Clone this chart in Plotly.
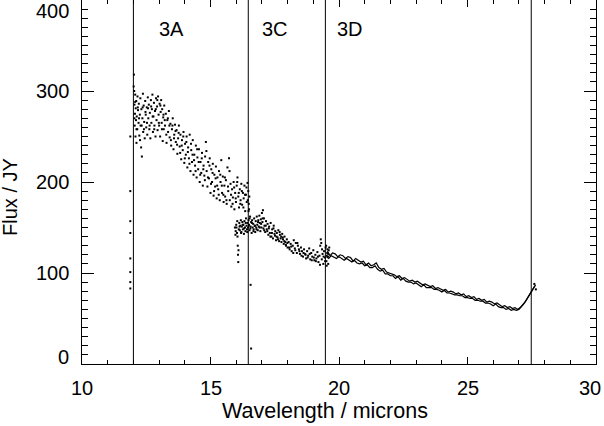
import plotly.graph_objects as go

# ---- data ----
wl_3a = [12.02,12.03,12.04,12.05,12.06,12.07,12.08,12.09,12.10,12.11,12.12,12.13,12.15,12.16,12.18,12.20,12.21,12.23,12.25,12.27,
         12.28,12.30,12.31,12.33,12.35,12.37,12.38,12.40,12.42,12.44,12.46,12.48,12.50,12.52,12.54,12.56,12.58,12.60,12.62,12.64,
         12.66,12.68,12.70,12.72,12.74,12.76,12.78,12.80,12.82,12.84,12.86,12.88,12.90,12.92,12.94,12.96,12.98,13.00,13.02,13.04,
         13.06,13.08,13.10,13.12,13.14,13.16,13.18,13.20,13.23,13.26,13.29,13.32,13.35,13.38,13.41,13.44,13.47,13.50,13.53,13.56,
         13.59,13.62,13.65,13.68,13.71,13.74,13.77,13.80,13.83,13.86,13.89,13.92,13.95,13.98,14.01,14.04,14.07,14.10,14.13,14.16,
         14.19,14.22,14.25,14.28,14.31,14.34,14.37,14.40,14.43,14.46,14.49,14.52,14.55,14.58,14.61,14.64,14.67,14.70,14.73,14.76,
         14.79,14.82,14.85,14.88,14.91,14.94,14.97,15.00,15.03,15.06,15.09,15.12,15.15,15.18,15.21,15.24,15.27,15.30,15.33,15.36,
         15.39,15.42,15.45,15.48,15.51,15.54,15.57,15.60,15.63,15.66,15.69,15.72,15.75,15.78,15.81,15.84,15.87,15.90,15.93,15.96,
         15.99,16.02,16.05,16.08,16.11,16.14,16.17,16.20,16.23,16.26,16.29,16.32,16.35,16.38,16.41,16.44,16.47,16.49,16.50,16.52]
flux_3a = [318,300,285,262,275,296,250,281,268,289,243,272,258,294,279,265,286,251,274,292,
           262,238,280,228,270,297,255,284,266,248,289,274,260,282,252,293,270,285,258,276,
           248,290,265,280,296,255,272,287,262,278,250,292,268,283,257,294,274,262,286,250,
           277,290,265,280,245,271,258,284,262,275,243,268,255,278,249,264,240,258,270,236,
           252,263,244,257,231,248,262,239,252,225,246,235,255,221,242,230,250,216,238,226,
           252,212,235,222,246,208,230,218,240,205,227,214,236,200,222,210,232,196,218,207,
           228,244,212,195,222,204,226,188,214,200,220,185,208,195,217,182,205,192,212,180,
           200,224,188,206,178,196,184,202,176,216,190,226,180,198,173,192,183,200,170,188,
           178,196,205,184,172,192,180,198,175,188,182,196,168,186,178,199,190,176,170,160]

wl_3a_b = [12.01,12.04,12.07,12.12,12.17,12.22,12.26,12.32,12.36,12.41,12.47,12.53,12.57,12.63,12.69,12.75,12.81,12.87,12.93,12.99,
           13.05,13.11,13.17,13.22,13.28,13.34,13.40,13.46,13.52,13.58,13.64,13.70,13.76,13.82,13.88,13.94,14.00,14.06,14.12,14.18,
           14.24,14.30,14.36,14.42,14.48,14.54,14.60,14.66,14.72,14.78,14.84,14.90,14.96,15.02,15.08,15.14,15.20,15.26,15.32,15.38,
           15.44,15.50,15.56,15.62,15.68,15.74,15.80,15.86,15.92,15.98,16.04,16.10,16.16,16.22,16.28,16.34,16.40,16.45,16.48,16.51]
flux_3a_b = [305,270,288,258,282,270,246,262,282,258,277,265,281,262,283,272,258,280,290,265,
             284,258,274,268,252,270,262,246,262,248,256,241,254,232,240,250,226,244,233,220,
             242,230,224,212,236,222,208,226,214,202,234,205,218,198,210,190,204,196,186,208,
             196,186,205,180,195,212,186,176,194,182,200,188,176,190,172,186,194,180,168,184]

wl_3c = [15.95,15.98,16.00,16.03,16.05,16.06,16.07,16.08,16.09,16.10,16.12,16.14,16.16,16.18,16.20,16.22,16.24,16.26,16.28,16.30,
         16.32,16.34,16.36,16.38,16.40,16.42,16.44,16.46,16.48,16.50,16.52,16.54,16.56,16.58,16.60,16.62,16.64,16.66,16.68,16.70,
         16.72,16.74,16.76,16.78,16.80,16.82,16.84,16.86,16.88,16.90,16.92,16.94,16.96,16.98,17.00,17.02,17.04,17.06,17.08,17.10,
         17.13,17.16,17.19,17.22,17.25,17.28,17.31,17.34,17.37,17.40,17.43,17.46,17.49,17.52,17.55,17.58,17.61,17.64,17.67,17.70,
         17.73,17.76,17.79,17.82,17.85,17.88,17.91,17.94,17.97,18.00,18.04,18.08,18.12,18.16,18.20,18.24,18.28,18.32,18.36,18.40,
         18.44,18.48,18.52,18.56,18.60,18.64,18.68,18.72,18.76,18.80,18.84,18.88,18.92,18.96,19.00,19.04,19.08,19.12,19.16,19.20,
         19.24,19.27,19.29,19.31,19.33,19.36,19.39,19.42,19.45,19.48,19.51,19.54,19.57,19.60]
flux_3c = [150,146,153,144,140,130,120,112,125,148,155,147,152,158,145,151,156,148,153,143,
           157,150,146,160,152,148,155,150,158,153,147,162,151,156,144,158,150,154,148,160,
           152,145,157,150,162,153,147,158,151,163,155,146,159,150,166,156,169,149,160,152,
           145,157,148,154,142,151,144,155,140,148,138,152,143,146,136,144,139,147,135,142,
           138,134,143,137,132,140,134,130,137,128,134,126,132,124,130,136,127,133,122,130,
           126,121,128,124,118,126,121,116,124,119,127,115,122,118,125,114,120,116,123,112,
           119,130,137,133,115,121,110,124,117,128,113,122,118,125]

wl_3c_b = [15.97,16.01,16.04,16.13,16.19,16.25,16.31,16.37,16.43,16.49,16.55,16.61,16.67,16.73,16.79,16.85,16.91,16.97,17.03,17.09,
           17.15,17.21,17.27,17.33,17.39,17.45,17.51,17.57,17.63,17.69,17.75,17.81,17.87,17.93,17.99,18.06,18.14,18.22,18.30,18.38,
           18.46,18.54,18.62,18.70,18.78,18.86,18.94,19.02,19.10,19.18,19.26,19.34,19.40,19.46,19.52,19.58]
flux_3c_b = [142,150,157,151,144,153,149,155,145,152,149,155,146,152,148,156,150,154,160,147,
             152,146,149,140,144,149,141,140,137,145,140,139,135,131,133,128,129,122,125,133,
             124,119,122,120,117,121,114,117,113,118,109,126,118,113,119,121]

wl_3d_up = [19.55,19.65,19.75,19.85,19.95,20.05,20.15,20.25,20.35,20.45,20.55,20.65,20.75,20.85,20.95,21.05,21.15,21.25,21.35,21.45,
            21.55,21.65,21.75,21.85,21.95,22.05,22.15,22.25,22.35,22.45,22.55,22.65,22.75,22.85,22.95,23.05,23.15,23.25,23.35,23.45,
            23.55,23.65,23.75,23.85,23.95,24.05,24.15,24.25,24.35,24.45,24.55,24.65,24.75,24.85,24.95,25.05,25.15,25.25,25.35,25.45,
            25.55,25.65,25.75,25.85,25.95,26.05,26.15,26.25,26.35,26.45,26.55,26.65,26.75,26.85,26.95,27.05,27.12,27.20,27.28,27.36,
            27.44,27.52,27.58,27.65]
flux_3d_up = [124,119,122,121,118,120,119,116,118,117,113,116,114,112,113,109,111,108,109,111,
              106,104,105,101,100,99,98,96,97,94,95,93,91,92,90,91,89,87,88,86,
              85,86,83,84,82,81,82,79,80,79,77,78,76,77,74,75,73,74,71,72,
              70,71,68,69,68,66,67,65,63,64,62,63,61,62,60,62,64,67,70,74,
              78,81,84,87]

wl_3d_lo = [19.50,19.60,19.70,19.80,19.90,20.00,20.10,20.20,20.30,20.40,20.50,20.60,20.70,20.80,20.90,21.00,21.10,21.20,21.30,21.40,
            21.50,21.60,21.70,21.80,21.90,22.00,22.10,22.20,22.30,22.40,22.50,22.60,22.70,22.80,22.90,23.00,23.10,23.20,23.30,23.40,
            23.50,23.60,23.70,23.80,23.90,24.00,24.10,24.20,24.30,24.40,24.50,24.60,24.70,24.80,24.90,25.00,25.10,25.20,25.30,25.40,
            25.50,25.60,25.70,25.80,25.90,26.00,26.10,26.20,26.30,26.40,26.50,26.60,26.70,26.80,26.90,27.00,27.08,27.16,27.24,27.32,
            27.40,27.48,27.55,27.62]
flux_3d_lo = [118,116,119,117,116,118,116,114,116,114,112,114,111,110,111,108,109,106,106,108,
              104,102,103,99,99,97,97,94,96,92,94,91,90,90,88,89,87,85,87,84,
              84,84,82,82,81,79,81,78,78,77,76,76,75,75,73,73,72,72,70,70,
              69,69,67,67,66,64,66,63,62,62,60,61,59,60,59,60,62,65,68,72,
              76,80,83,86]

wl_stray = [11.88,11.88,11.88,11.88,11.88,11.88,11.88,11.88,16.56,16.58,19.50,19.52,19.55,19.58,19.62,27.60,27.66]
flux_stray = [250,190,157,144,116,101,90,83,87,17,130,108,126,110,128,88,82]

band_edges = [12.0, 16.47, 19.47, 27.48]
band_names = ["3A", "3C", "3D"]
band_label_wl = [13.48, 17.51, 20.43]
band_label_flux = [368, 368, 368]

x_ticks = [10, 15, 20, 25, 30]
y_ticks = [0, 100, 200, 300, 400]

FONT = "Liberation Sans, Arial, Helvetica, sans-serif"

fig = go.Figure()
mk = dict(color="black", size=2, symbol="square", line=dict(width=0))
for xs, ys in [(wl_3a, flux_3a), (wl_3a_b, flux_3a_b), (wl_3c, flux_3c), (wl_3c_b, flux_3c_b), (wl_stray, flux_stray)]:
    fig.add_trace(go.Scatter(x=xs, y=ys, mode="markers", marker=mk, showlegend=False, hoverinfo="skip"))
for xs, ys in [(wl_3d_up, flux_3d_up), (wl_3d_lo, flux_3d_lo)]:
    fig.add_trace(go.Scatter(x=xs, y=ys, mode="lines", line=dict(color="black", width=1.2), showlegend=False, hoverinfo="skip"))

shapes = [dict(type="line", xref="x", yref="y", x0=e, x1=e, y0=0, y1=400, line=dict(color="black", width=1)) for e in band_edges]

ann = []
for name, xw, yf in zip(band_names, band_label_wl, band_label_flux):
    ann.append(dict(x=xw, y=yf, xref="x", yref="y", text=name, showarrow=False, font=dict(size=20, color="black", family=FONT)))
for v in y_ticks:
    ysh = 7 if v == y_ticks[0] else (-11 if v == y_ticks[-1] else 0)
    ann.append(dict(x=0, xref="paper", y=v, yref="y", text=str(v), showarrow=False, xanchor="right", yanchor="middle",
                    xshift=-11, yshift=ysh, font=dict(size=20, color="black", family=FONT)))
for v in x_ticks:
    anc = "right" if v == x_ticks[-1] else "center"
    ann.append(dict(x=v, xref="x", y=0, yref="paper", text=str(v), showarrow=False, xanchor=anc, yanchor="top",
                    xshift=(7 if v == x_ticks[-1] else 0), yshift=-11, font=dict(size=20, color="black", family=FONT)))
ann.append(dict(x=0.472, xref="paper", y=0, yref="paper", yshift=-47, text="Wavelength / microns", showarrow=False,
                xanchor="center", yanchor="middle", font=dict(size=21.5, color="black", family=FONT)))
ann.append(dict(x=0, xref="paper", y=0.459, yref="paper", xshift=-72, text="Flux / JY", showarrow=False, textangle=-90,
                xanchor="center", yanchor="middle", font=dict(size=20, color="black", family=FONT)))

fig.update_layout(
    width=604, height=426,
    margin=dict(l=82, r=8, t=0, b=62),
    paper_bgcolor="white", plot_bgcolor="white",
    shapes=shapes, annotations=ann,
    xaxis=dict(range=[10, 30], tickvals=x_ticks, showticklabels=False, ticks="inside", ticklen=7, tickcolor="black",
               showline=True, linecolor="black", linewidth=1, mirror="ticks", showgrid=False, zeroline=False,
               minor=dict(dtick=1, ticks="inside", ticklen=4, tickcolor="black", showgrid=False)),
    yaxis=dict(range=[0, 400], tickvals=y_ticks, showticklabels=False, ticks="inside", ticklen=12, tickcolor="black",
               showline=True, linecolor="black", linewidth=1, mirror="ticks", showgrid=False, zeroline=False,
               minor=dict(dtick=10, ticks="inside", ticklen=6, tickcolor="black", showgrid=False)),
)
fig.write_html("out.html", config={"displayModeBar": False},
               post_script="document.body.style.margin='0';document.body.style.overflow='hidden';")
